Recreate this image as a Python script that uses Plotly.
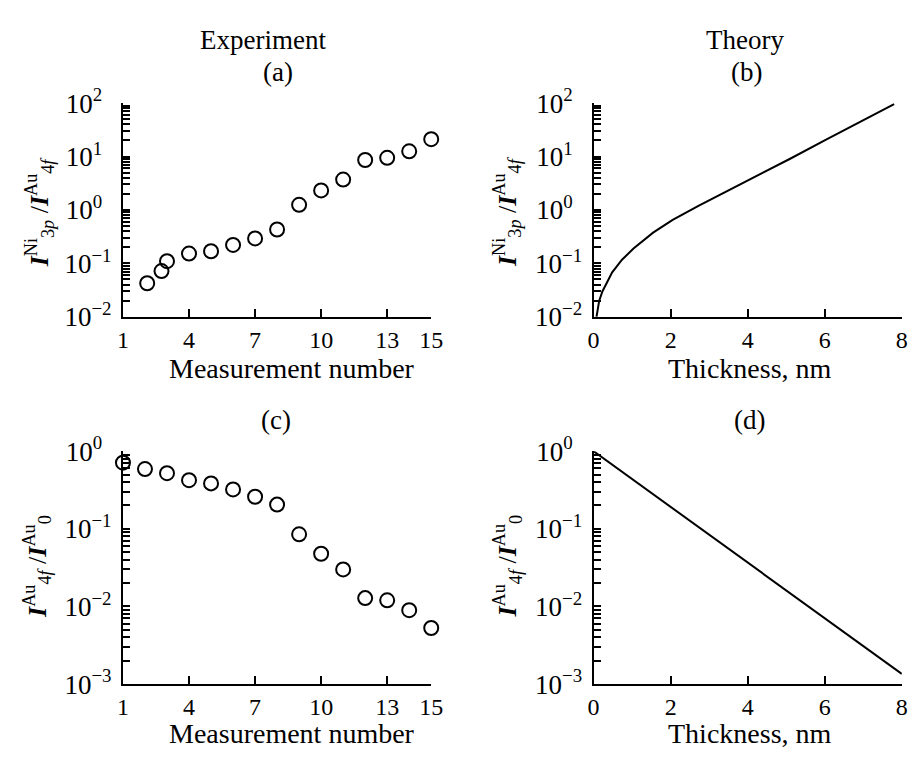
import plotly.graph_objects as go

# ---- data ----
meas_a = [2.1, 2.75, 3, 4, 5, 6, 7, 8, 9, 10, 11, 12, 13, 14, 15]
ratio_a = [0.0425, 0.0718, 0.110, 0.153, 0.169, 0.222, 0.293, 0.431,
           1.25, 2.32, 3.70, 8.6, 9.47, 12.5, 21.1]

thick_b = [0.076, 0.145, 0.229, 0.356, 0.483, 0.738, 1.036, 1.545, 2.053,
           2.733, 3.580, 4.427, 5.089, 6.01, 7.8]
ratio_b = [0.0100, 0.0199, 0.0299, 0.0451, 0.0679, 0.117, 0.190, 0.377, 0.650,
           1.20, 2.45, 5.0, 8.99, 20.2, 96.0]

meas_c = [1, 2, 3, 4, 5, 6, 7, 8, 9, 10, 11, 12, 13, 14, 15]
ratio_c = [0.711, 0.589, 0.521, 0.423, 0.385, 0.322, 0.259, 0.205,
           0.0849, 0.0477, 0.0300, 0.0128, 0.0120, 0.00896, 0.00528]

thick_d = [0.0, 8.0]
ratio_d = [1.0, 0.00135]

meas_ticks = [1, 4, 7, 10, 13, 15]
thick_ticks = [0, 2, 4, 6, 8]
exp_top = [-2, -1, 0, 1, 2]
exp_bot = [-3, -2, -1, 0]

FONT = "Liberation Serif"
W, H = 920, 765

fig = go.Figure()

marker = dict(symbol="circle-open", size=14, color="black", line=dict(width=2, color="black"))
fig.add_trace(go.Scatter(x=meas_a, y=ratio_a, mode="markers", marker=marker,
                         xaxis="x", yaxis="y", cliponaxis=False, showlegend=False))
fig.add_trace(go.Scatter(x=thick_b, y=ratio_b, mode="lines", line=dict(color="black", width=2),
                         xaxis="x2", yaxis="y2", showlegend=False))
fig.add_trace(go.Scatter(x=meas_c, y=ratio_c, mode="markers", marker=marker,
                         xaxis="x3", yaxis="y3", cliponaxis=False, showlegend=False))
fig.add_trace(go.Scatter(x=thick_d, y=ratio_d, mode="lines", line=dict(color="black", width=2),
                         xaxis="x4", yaxis="y4", showlegend=False))

def px_x(p):
    return p / W

def px_y(p):
    return 1 - p / H

dom_left = [px_x(119.3), px_x(433.7)]
dom_right = [px_x(599.3), px_x(913.7)]
dom_top = [px_y(311.7), px_y(88)]
dom_bot = [px_y(696), px_y(452.3)]

xtickfont = dict(family=FONT, size=24, color="black")
ytickfont = dict(family=FONT, size=27, color="black")

def xax(domain, anchor, rng, tickvals):
    return dict(domain=domain, anchor=anchor, range=rng, tickvals=tickvals,
                ticks="inside", ticklen=8, tickwidth=2, tickcolor="black",
                showline=True, linewidth=2, linecolor="black", showgrid=False,
                zeroline=False, tickfont=xtickfont, fixedrange=True)

def yax(domain, anchor, exps):
    vals, txt = [], []
    for i, e in enumerate(exps):
        vals.append(10.0 ** e)
        if e < 0:
            txt.append("10<sup>\u2212%d</sup>" % (-e))
        else:
            txt.append("10<sup>%d\u00a0\u00a0</sup>" % e)
        if i < len(exps) - 1:
            for m in range(2, 10):
                vals.append(m * 10.0 ** e)
                txt.append("")
    return dict(domain=domain, anchor=anchor, type="log", range=[exps[0], exps[-1]],
                tickmode="array", tickvals=vals, ticktext=txt,
                ticks="inside", ticklen=7, tickwidth=1.6, tickcolor="black",
                ticklabelstandoff=4,
                showline=True, linewidth=2, linecolor="black", showgrid=False,
                zeroline=False, tickfont=ytickfont, fixedrange=True)

fig.update_layout(
    width=W, height=H,
    margin=dict(l=0, r=0, t=0, b=0),
    paper_bgcolor="white", plot_bgcolor="white",
    font=dict(family=FONT, color="black"),
    xaxis=xax(dom_left, "y", [1, 15], meas_ticks),
    yaxis=yax(dom_top, "x", exp_top),
    xaxis2=xax(dom_right, "y2", [0, 8], thick_ticks),
    yaxis2=yax(dom_top, "x2", exp_top),
    xaxis3=xax(dom_left, "y3", [1, 15], meas_ticks),
    yaxis3=yax(dom_bot, "x3", exp_bot),
    xaxis4=xax(dom_right, "y4", [0, 8], thick_ticks),
    yaxis4=yax(dom_bot, "x4", exp_bot),
)

ann = []

def text(x, y, s, angle=0, size=27):
    ann.append(dict(x=px_x(x), y=px_y(y), xref="paper", yref="paper", text=s,
                    showarrow=False, font=dict(family=FONT, size=size, color="black"),
                    xanchor="center", yanchor="middle", textangle=angle))

text(262, 22, "Experiment")
text(754, 22, "Theory")
text(277, 55, "(a)")
text(755, 55, "(b)")
text(275, 420, "(c)")
text(758, 420, "(d)")
text(292, 366, "Measurement number", size=28)
text(759, 366, "Thickness, nm", size=28)
text(292, 748, "Measurement number", size=28)
text(759, 748, "Thickness, nm", size=28)

lab_top = "<b><i>I</i></b><sup>Ni</sup><sub>3<i>p</i></sub> /<b><i>I</i></b><sup>Au</sup><sub>4<i>f</i></sub>"
lab_bot = "<b><i>I</i></b><sup>Au</sup><sub>4<i>f</i></sub> /<b><i>I</i></b><sup>Au</sup><sub>0</sub>"
text(34, 202, lab_top, -90, 26)
text(511, 202, lab_top, -90, 26)
text(31, 573, lab_bot, -90, 26)
text(511, 573, lab_bot, -90, 26)

fig.update_layout(annotations=ann)
fig.write_html("out.html")
